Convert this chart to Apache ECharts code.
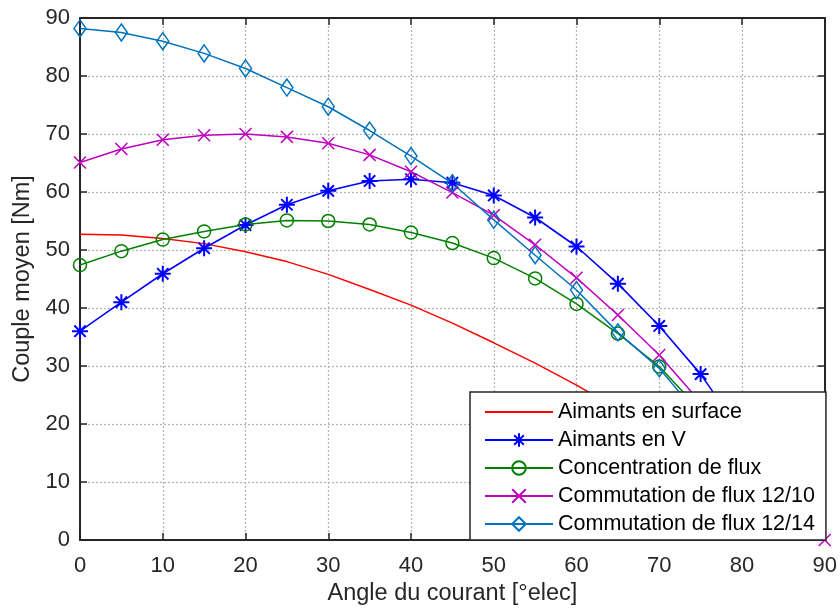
<!DOCTYPE html>
<html><head><meta charset="utf-8">
<script src="https://cdn.jsdelivr.net/npm/echarts@6/dist/echarts.min.js"></script>
<style>html,body{margin:0;padding:0;background:#fff}#c{width:840px;height:612px}</style>
</head><body><div id="c"></div>
<script>
const angles = [0,5,10,15,20,25,30,35,40,45,50,55,60,65,70,75,80,85,90];
const xTicks = [0,10,20,30,40,50,60,70,80,90];
const seriesNames = ['Aimants en surface','Aimants en V','Concentration de flux','Commutation de flux 12/10','Commutation de flux 12/14'];
const surface = [52.7,52.6,52.0,51.1,49.7,48.0,45.8,43.2,40.5,37.4,34.0,30.5,26.7,22.6,18.3,13.8,9.3,4.7,0];
const aimantsV = [36.0,41.0,45.9,50.3,54.3,57.8,60.2,61.9,62.2,61.6,59.4,55.6,50.6,44.2,36.9,28.6,18.3,8.5];
const concentration = [47.4,49.8,51.8,53.2,54.4,55.1,55.0,54.4,53.0,51.2,48.6,45.1,40.7,35.6,29.9,22.3,14.5,6.0];
const comm1210 = [65.1,67.4,69.0,69.8,70.0,69.5,68.4,66.4,63.5,59.9,56.0,50.9,45.2,38.8,31.9,23.7,15.8,7.9,0];
const comm1214 = [88.2,87.5,86.0,83.9,81.3,78.0,74.7,70.6,66.2,61.5,55.2,49.1,43.1,35.8,29.6,21.1,12.5,4.0];

const FONT = "'Liberation Sans', Arial, sans-serif";
const AX = '#262626';
const GRIDC = '#b4b4b4';
const pairs = v => v.map((y, i) => [angles[i], y]);
const STAR = 'path://M0,-10L0,10M-10,0L10,0M-7.07,-7.07L7.07,7.07M-7.07,7.07L7.07,-7.07';
const CROSS = 'path://M-10,-10L10,10M-10,10L10,-10';

function mk(name, data, color, symbol, size, lw, bw) {
  return {
    name, type: 'line', data: pairs(data),
    symbol, symbolSize: size, showSymbol: symbol !== 'none',
    lineStyle: { color, width: lw || 1.5 },
    itemStyle: { color: 'none', borderColor: color, borderWidth: bw || 1.5 },
    emphasis: { disabled: true }, animation: false, clip: true
  };
}

const chart = echarts.init(document.getElementById('c'), null, { renderer: 'canvas' });
const baseX = { type: 'value', min: 0, max: 90, interval: 10 };
chart.setOption({
  backgroundColor: '#fff',
  animation: false,
  textStyle: { fontFamily: FONT },
  grid: { left: 80, right: 14, top: 18, bottom: 72 },
  xAxis: [
    Object.assign({}, baseX, {
      position: 'bottom',
      name: 'Angle du courant [°elec]', nameLocation: 'middle', nameGap: 27,
      nameTextStyle: { fontSize: 23.5, color: AX, fontFamily: FONT },
      axisLine: { show: true, onZero: false, lineStyle: { color: AX, width: 2 } },
      axisTick: { show: true, inside: true, length: 7, lineStyle: { color: AX, width: 1.5 } },
      axisLabel: { fontSize: 22, color: AX, margin: 15, fontFamily: FONT,
        formatter: v => xTicks.includes(v) ? String(v) : '' },
      splitLine: { show: true, lineStyle: { color: GRIDC, type: [2, 2], width: 1.2 } }
    }),
    Object.assign({}, baseX, {
      position: 'top',
      axisLine: { show: true, onZero: false, lineStyle: { color: AX, width: 2 } },
      axisTick: { show: true, inside: true, length: 7, lineStyle: { color: AX, width: 1.5 } },
      axisLabel: { show: false }, splitLine: { show: false }
    })
  ],
  yAxis: [
    {
      type: 'value', min: 0, max: 90, interval: 10, position: 'left',
      name: 'Couple moyen [Nm]', nameLocation: 'middle', nameGap: 45,
      nameTextStyle: { fontSize: 23.5, color: AX, fontFamily: FONT },
      axisLine: { show: true, onZero: false, lineStyle: { color: AX, width: 2 } },
      axisTick: { show: true, inside: true, length: 7, lineStyle: { color: AX, width: 1.5 } },
      axisLabel: { fontSize: 22, color: AX, margin: 10, fontFamily: FONT },
      splitLine: { show: true, lineStyle: { color: GRIDC, type: [2, 2], width: 1.2 } }
    },
    {
      type: 'value', min: 0, max: 90, interval: 10, position: 'right',
      axisLine: { show: true, onZero: false, lineStyle: { color: AX, width: 2 } },
      axisTick: { show: true, inside: true, length: 7, lineStyle: { color: AX, width: 1.5 } },
      axisLabel: { show: false }, splitLine: { show: false }
    }
  ],
  legend: {
    orient: 'vertical', left: 470, top: 392,
    padding: [9, 11, 5, 14],
    itemWidth: 68, itemHeight: 17, itemGap: 6,
    backgroundColor: '#fff', borderColor: AX, borderWidth: 1.5,
    textStyle: { fontSize: 21.5, color: '#000', fontFamily: FONT, lineHeight: 22 },
    data: [
      { name: seriesNames[0], itemStyle: { opacity: 0 } },
      seriesNames[1], seriesNames[2], seriesNames[3], seriesNames[4]
    ]
  },
  series: [
    mk(seriesNames[0], surface, '#ff0000', 'none', 0),
    mk(seriesNames[1], aimantsV, '#0000ff', STAR, 16, 1.6, 2),
    mk(seriesNames[2], concentration, '#008000', 'circle', 13),
    mk(seriesNames[3], comm1210, '#bf00bf', CROSS, 12),
    mk(seriesNames[4], comm1214, '#0072bd', 'diamond', [12, 17])
  ]
});
</script></body></html>
